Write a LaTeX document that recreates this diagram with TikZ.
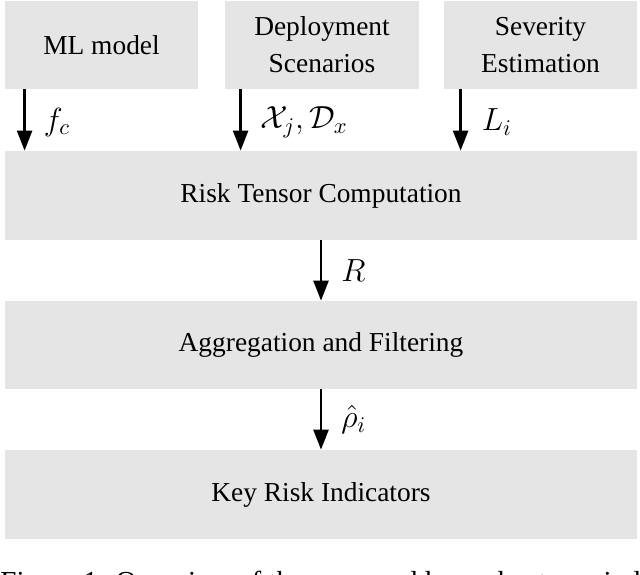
\RequirePackage{fix-cm}
\documentclass[tikz,border=0pt]{standalone}
\usepackage{fontspec}
\setmainfont{Liberation Serif}
\usetikzlibrary{arrows.meta}
\definecolor{boxgray}{RGB}{229,229,229}
\begin{document}
\begin{tikzpicture}[x=0.5pt,y=-0.5pt,
  box/.style={fill=boxgray, draw=none, inner sep=0pt, align=center,
    font=\fontsize{13.7}{18.5}\selectfont},
  flow/.style={line width=1.3pt, -{Triangle[length=10pt,width=7.5pt]}},
  lab/.style={anchor=west, inner sep=0pt, font=\fontsize{16}{18}\selectfont},
  captext/.style={anchor=north west, inner sep=0pt, font=\fontsize{14.5}{17}\selectfont}]
\useasboundingbox (0,0) rectangle (640,574);
\node[box, minimum width=96.5pt, minimum height=44pt] (ml) at (101.5,45) {ML model};
\node[box, minimum width=97pt, minimum height=44pt] (dep) at (322,45) {Deployment\\Scenarios};
\node[box, minimum width=96.5pt, minimum height=44pt] (sev) at (540.5,45) {Severity\\Estimation};
\node[box, minimum width=316pt, minimum height=44.5pt] (risk) at (321,195.5) {Risk Tensor Computation};
\node[box, minimum width=316pt, minimum height=44pt] (agg) at (321,345) {Aggregation and Filtering};
\node[box, minimum width=316pt, minimum height=44.5pt] (kri) at (321,494.5) {Key Risk Indicators};
\draw[flow] ([xshift=10pt]ml.south west) -- ([xshift=10pt]risk.north west)
  node[lab, midway, xshift=9pt, yshift=-1pt] {$f_c$};
\draw[flow] ([xshift=8pt]dep.south west) -- ([xshift=8pt]dep.south west |- risk.north)
  node[lab, midway, xshift=9.5pt, yshift=-1pt] {$\mathcal{X}_j, \mathcal{D}_x$};
\draw[flow] ([xshift=8.5pt]sev.south west) -- ([xshift=8.5pt]sev.south west |- risk.north)
  node[lab, midway, xshift=10pt, yshift=-1pt] {$L_i$};
\draw[flow] (risk.south) -- (agg.north) node[lab, midway, xshift=9.5pt] {$R$};
\draw[flow] (agg.south) -- (kri.north) node[lab, midway, xshift=9.5pt] {$\hat{\rho}_i$};
\node[captext] (caption) at (0,571) {Figure 1: Overview of the proposed key robustness indicators};
\end{tikzpicture}
\end{document}
